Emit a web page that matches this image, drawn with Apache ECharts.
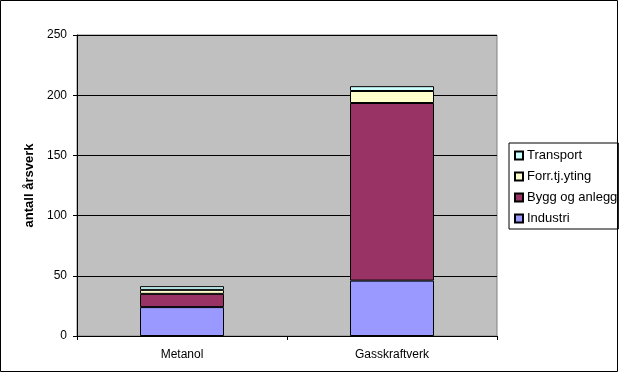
<!DOCTYPE html>
<html>
<head>
<meta charset="utf-8">
<script src="https://cdn.jsdelivr.net/npm/echarts@6/dist/echarts.min.js"></script>
<style>
  html, body { margin: 0; padding: 0; background: #fff; }
  #chart { width: 619px; height: 373px; }
</style>
</head>
<body>
<div id="chart"></div>
<script>
// kategorier og verdier (antall årsverk)
const categories = ['Metanol', 'Gasskraftverk'];
const industri = [24, 46];
const byggOgAnlegg = [11, 147.5];
const forrTjYting = [3.3, 10];
const transport = [3.1, 4];
const legendOrder = ['Transport', 'Forr.tj.yting', 'Bygg og anlegg', 'Industri'];

const font = '"Liberation Sans", Arial, sans-serif';
const chart = echarts.init(document.getElementById('chart'));

const makeSeries = (name, data, color) => ({
  name: name,
  type: 'bar',
  stack: 'total',
  barWidth: '40%',
  data: data,
  itemStyle: { color: color, borderColor: '#000', borderWidth: 1 }
});

const option = {
  animation: false,
  backgroundColor: '#fff',
  textStyle: { fontFamily: font },
  graphic: [{
    type: 'rect',
    shape: { x: 0.5, y: 0.5, width: 617, height: 371 },
    style: { fill: 'none', stroke: '#000', lineWidth: 1 },
    silent: true
  }],
  grid: {
    left: 77, right: 122, top: 35, bottom: 37,
    show: true,
    backgroundColor: '#c0c0c0',
    borderColor: '#808080',
    borderWidth: 1
  },
  legend: {
    orient: 'vertical',
    left: 509,
    top: 143,
    data: legendOrder,
    icon: 'rect',
    itemWidth: 8,
    itemHeight: 8,
    itemGap: 6,
    padding: [5, 1, 3, 5],
    borderColor: '#000',
    borderWidth: 1,
    textStyle: { fontFamily: font, fontSize: 13, color: '#000', padding: [0, 0, 0, -1], lineHeight: 15 }
  },
  xAxis: {
    type: 'category',
    data: categories,
    axisLine: { lineStyle: { color: '#000', width: 1 } },
    axisTick: { show: true, alignWithLabel: false, length: 4, lineStyle: { color: '#000' } },
    axisLabel: { color: '#000', fontSize: 12, fontFamily: font, margin: 13 }
  },
  yAxis: {
    type: 'value',
    min: 0,
    max: 250,
    interval: 50,
    name: 'antall årsverk',
    nameLocation: 'middle',
    nameGap: 37,
    nameTextStyle: { color: '#000', fontSize: 13, fontWeight: 'bold', fontFamily: font },
    axisLine: { show: true, lineStyle: { color: '#000', width: 1 } },
    axisTick: { show: true, length: 4, lineStyle: { color: '#000' } },
    axisLabel: { color: '#000', fontSize: 12, fontFamily: font, margin: 10 },
    splitLine: { show: true, lineStyle: { color: '#000', width: 1 } }
  },
  series: [
    makeSeries('Industri', industri, '#9999ff'),
    makeSeries('Bygg og anlegg', byggOgAnlegg, '#993366'),
    makeSeries('Forr.tj.yting', forrTjYting, '#ffffcc'),
    makeSeries('Transport', transport, '#ccffff')
  ]
};

chart.setOption(option);
</script>
</body>
</html>
